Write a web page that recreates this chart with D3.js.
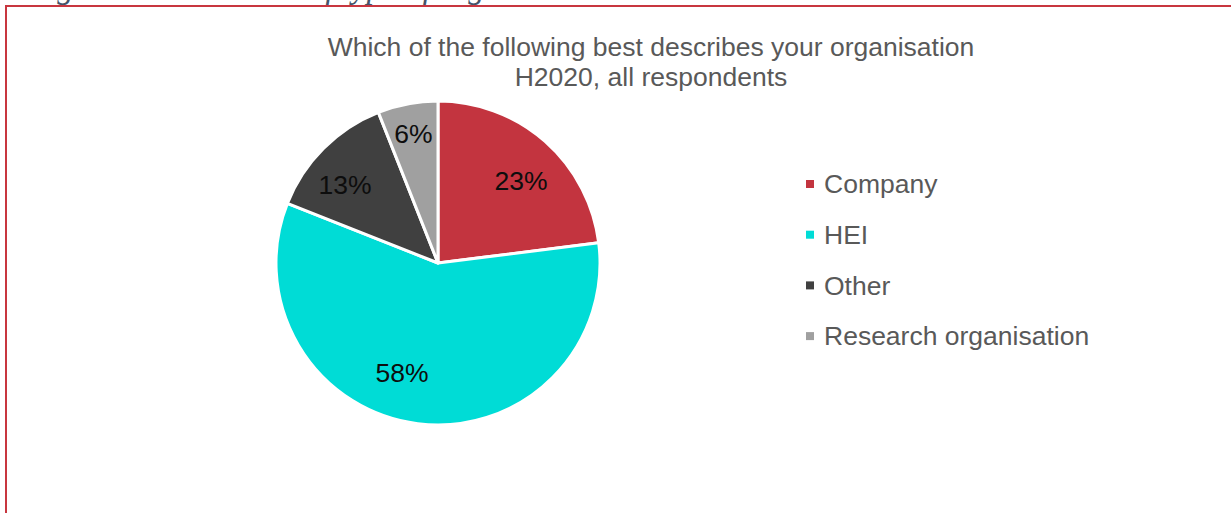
<!DOCTYPE html>
<html>
<head>
<meta charset="utf-8">
<script src="https://cdn.jsdelivr.net/npm/d3@7"></script>
<style>
  html, body { margin: 0; padding: 0; background: #ffffff; }
  svg { display: block; }
</style>
</head>
<body>
<svg id="chart" width="1231" height="513"></svg>
<script>
// Survey answers: share of respondents by organisation type (%)
const categories = ["Company", "HEI", "Other", "Research organisation"];
const shares = [23, 58, 13, 6];
const sliceColors = ["#c3343f", "#00dcd6", "#404040", "#a0a0a0"];

const titleLines = [
  "Which of the following best describes your organisation",
  "H2020, all respondents"
];
const captionText = "Figure 9 – Overview of type of organisations";

const svg = d3.select("#chart");
const W = 1231, H = 513;
const font = "'Liberation Sans', Arial, sans-serif";
const fontSize = 26.5;

// Caption of the document figure, mostly above the frame
svg.append("text")
  .attr("x", 28).attr("y", -2)
  .attr("font-family", "'Liberation Serif', 'Times New Roman', serif")
  .attr("font-style", "italic")
  .attr("font-size", 33)
  .attr("fill", "#44546a")
  .text(captionText);

// Chart frame (left and top edges are visible)
svg.append("path")
  .attr("d", `M6,${H} L6,6 L${W},6`)
  .attr("fill", "none")
  .attr("stroke", "#c8363f")
  .attr("stroke-width", 2);

// Title
svg.append("g")
  .selectAll("text")
  .data(titleLines)
  .join("text")
  .attr("x", 651)
  .attr("y", (d, i) => 56 + i * 30)
  .attr("text-anchor", "middle")
  .attr("font-family", font)
  .attr("font-size", fontSize)
  .attr("fill", "#595959")
  .text(d => d);

// Pie
const cx = 438, cy = 263, radius = 162;
const color = d3.scaleOrdinal().domain(categories).range(sliceColors);

const pie = d3.pie().sort(null).value(d => d.value);
const arcs = pie(categories.map((c, i) => ({ name: c, value: shares[i] })));
const arc = d3.arc().innerRadius(0).outerRadius(radius);

const g = svg.append("g").attr("transform", `translate(${cx},${cy})`);

g.selectAll("path")
  .data(arcs)
  .join("path")
  .attr("d", arc)
  .attr("fill", d => color(d.data.name))
  .attr("stroke", "#ffffff")
  .attr("stroke-width", 3)
  .attr("stroke-linejoin", "round");

// Data labels: placed on a ring inside the pie, with small
// angular / radial adjustments to keep them clear of the slice edges
const labelTweak = {
  "Company": { da: 4, r: 0.72 },
  "HEI": { da: 11, r: 0.71 },
  "Other": { da: -5, r: 0.75 },
  "Research organisation": { da: 0, r: 0.81 }
};

g.selectAll("text.lbl")
  .data(arcs)
  .join("text")
  .attr("class", "lbl")
  .each(function (d) {
    const t = labelTweak[d.data.name];
    const a = (d.startAngle + d.endAngle) / 2 + t.da * Math.PI / 180;
    const r = radius * t.r;
    d3.select(this)
      .attr("x", Math.sin(a) * r)
      .attr("y", -Math.cos(a) * r);
  })
  .attr("text-anchor", "middle")
  .attr("dy", "0.35em")
  .attr("font-family", font)
  .attr("font-size", fontSize)
  .attr("fill", "#0d0d0d")
  .text(d => d.data.value + "%");

// Legend
const legend = svg.append("g").attr("transform", "translate(806,184)");
const rows = legend.selectAll("g")
  .data(categories)
  .join("g")
  .attr("transform", (d, i) => `translate(0,${i * 50.7})`);

rows.append("rect")
  .attr("x", 0).attr("y", -4)
  .attr("width", 8).attr("height", 8)
  .attr("fill", d => color(d));

rows.append("text")
  .attr("x", 18)
  .attr("dy", "0.35em")
  .attr("font-family", font)
  .attr("font-size", fontSize)
  .attr("fill", "#595959")
  .text(d => d);
</script>
</body>
</html>
